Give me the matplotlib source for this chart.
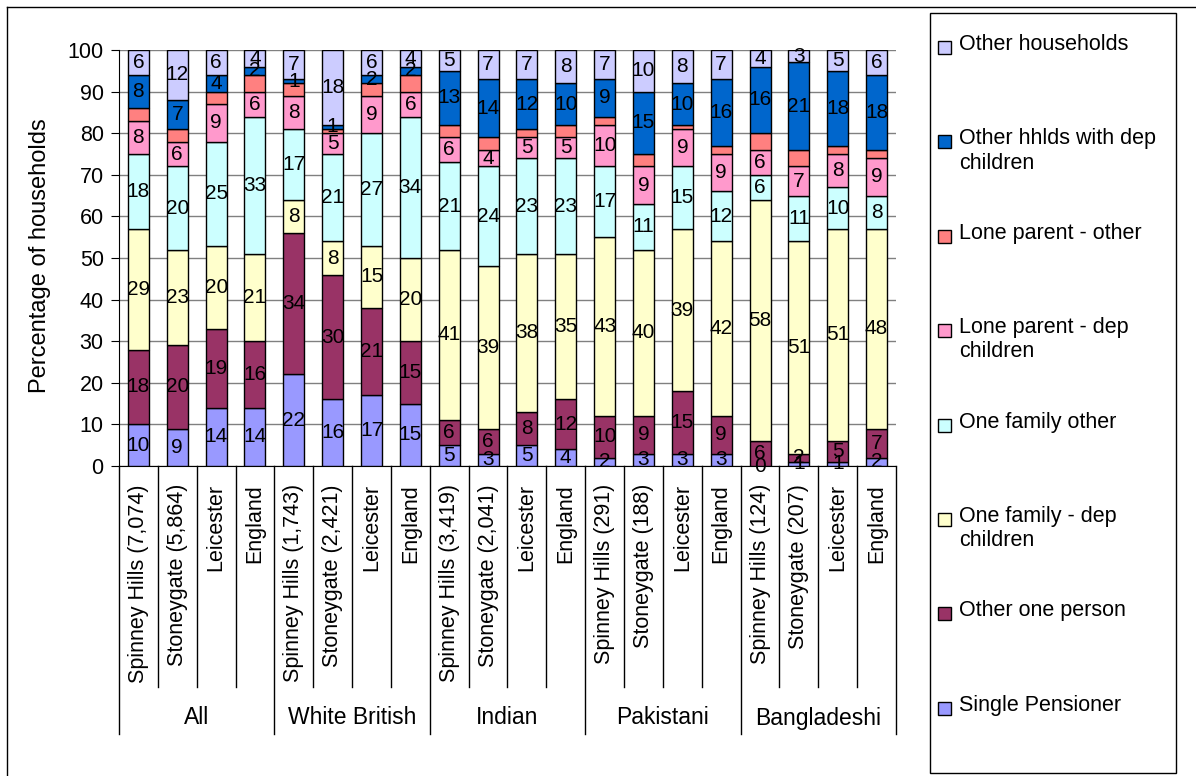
import matplotlib
matplotlib.use("Agg")
import matplotlib.pyplot as plt
import numpy as np
from matplotlib.lines import Line2D
from matplotlib.patches import Rectangle

plt.rcParams['font.family'] = ['Liberation Sans', 'DejaVu Sans']

categories = ["Spinney Hills (7,074)", "Stoneygate (5,864)", "Leicester", "England",
              "Spinney Hills (1,743)", "Stoneygate (2,421)", "Leicester", "England",
              "Spinney Hills (3,419)", "Stoneygate (2,041)", "Leicester", "England",
              "Spinney Hills (291)", "Stoneygate (188)", "Leicester", "England",
              "Spinney Hills (124)", "Stoneygate (207)", "Leicester", "England"]
groups = ["All", "White British", "Indian", "Pakistani", "Bangladeshi"]

single_pensioner = [10, 9, 14, 14, 22, 16, 17, 15, 5, 3, 5, 4, 2, 3, 3, 3, 0, 1, 1, 2]
other_one_person = [18, 20, 19, 16, 34, 30, 21, 15, 6, 6, 8, 12, 10, 9, 15, 9, 6, 2, 5, 7]
one_family_dep = [29, 23, 20, 21, 8, 8, 15, 20, 41, 39, 38, 35, 43, 40, 39, 42, 58, 51, 51, 48]
one_family_other = [18, 20, 25, 33, 17, 21, 27, 34, 21, 24, 23, 23, 17, 11, 15, 12, 6, 11, 10, 8]
lone_parent_dep = [8, 6, 9, 6, 8, 5, 9, 6, 6, 4, 5, 5, 10, 9, 9, 9, 6, 7, 8, 9]
lone_parent_other = [3, 3, 3, 4, 3, 1, 3, 4, 3, 3, 2, 3, 2, 3, 1, 2, 4, 4, 2, 2]
other_dep_children = [8, 7, 4, 2, 1, 1, 2, 2, 13, 14, 12, 10, 9, 15, 10, 16, 16, 21, 18, 18]
other_households = [6, 12, 6, 4, 7, 18, 6, 4, 5, 7, 7, 8, 7, 10, 8, 7, 4, 3, 5, 6]

series = [
    ("Single Pensioner", single_pensioner, "#9999FF", True),
    ("Other one person", other_one_person, "#993366", True),
    ("One family - dep\nchildren", one_family_dep, "#FFFFCC", True),
    ("One family other", one_family_other, "#CCFFFF", True),
    ("Lone parent - dep\nchildren", lone_parent_dep, "#FF99CC", True),
    ("Lone parent - other", lone_parent_other, "#FF8080", False),
    ("Other hhlds with dep\nchildren", other_dep_children, "#0066CC", True),
    ("Other households", other_households, "#CCCCFF", True),
]

W, H = 1196, 776
fig = plt.figure(figsize=(W / 100, H / 100), dpi=100)
ax_l, ax_r, ax_t, ax_b = 119, 896, 50, 466
ax = fig.add_axes([ax_l / W, 1 - ax_b / H, (ax_r - ax_l) / W, (ax_b - ax_t) / H])

x = np.arange(len(categories))
bottom = np.zeros(len(categories))
for name, vals, col, show in series:
    vals = np.array(vals, dtype=float)
    ax.bar(x, vals, 0.54, bottom=bottom, color=col, edgecolor="black", linewidth=1, zorder=3)
    if show:
        for xi, v, b in zip(x, vals, bottom):
            ax.text(xi, b + v / 2, f"{v:g}", ha="center", va="center", fontsize=15, zorder=4)
    bottom += vals

ax.set_xlim(-0.5, len(categories) - 0.5)
ax.set_ylim(0, 100)
ax.set_yticks(np.arange(0, 101, 10))
ax.yaxis.grid(True, color="#808080", linewidth=1)
ax.set_axisbelow(True)
ax.tick_params(axis="y", direction="out", length=6, labelsize=15.5, pad=5)
ax.set_xticks(x, categories, rotation=90, fontsize=15.5)
ax.tick_params(axis="x", length=0, pad=13)
for s in ["top", "right"]:
    ax.spines[s].set_visible(False)

# category / group separators below the axis
trans = ax.get_xaxis_transform()
axh = ax_b - ax_t
for i in range(len(categories) + 1):
    depth = -(734 - ax_b) / axh if i % 4 == 0 else -(687 - ax_b) / axh
    ax.plot([i - 0.5, i - 0.5], [0, depth], transform=trans, color="black", lw=1, clip_on=False)
for g, name in enumerate(groups):
    ax.text(4 * g + 1.5, -(718 - ax_b) / axh, name, transform=trans, ha="center", va="center",
            fontsize=16.5)

fig.text(40 / W, 1 - 256 / H, "Percentage of households", rotation=90, ha="center", va="center", fontsize=17)

# outer frame (top and left visible)
fig.add_artist(Line2D([7 / W, 1.0], [1 - 7 / H, 1 - 7 / H], color="black", lw=1))
fig.add_artist(Line2D([7 / W, 7 / W], [0, 1 - 7 / H], color="black", lw=1))

# legend box
fig.add_artist(Rectangle((930 / W, 1 - 773 / H), 246 / W, 760 / H, transform=fig.transFigure,
                         facecolor="white", edgecolor="black", lw=1))
for i, (name, vals, col, show) in enumerate(series[::-1]):
    base = 53 + i * 94.4
    fig.add_artist(Rectangle((938 / W, 1 - (base + 1) / H), 13 / W, 13 / H, transform=fig.transFigure,
                             facecolor=col, edgecolor="black", lw=1))
    fig.text(959 / W, 1 - (base - 19) / H, name, ha="left", va="top", fontsize=15.5, linespacing=1.2)

fig.savefig("out.png", dpi=100)
